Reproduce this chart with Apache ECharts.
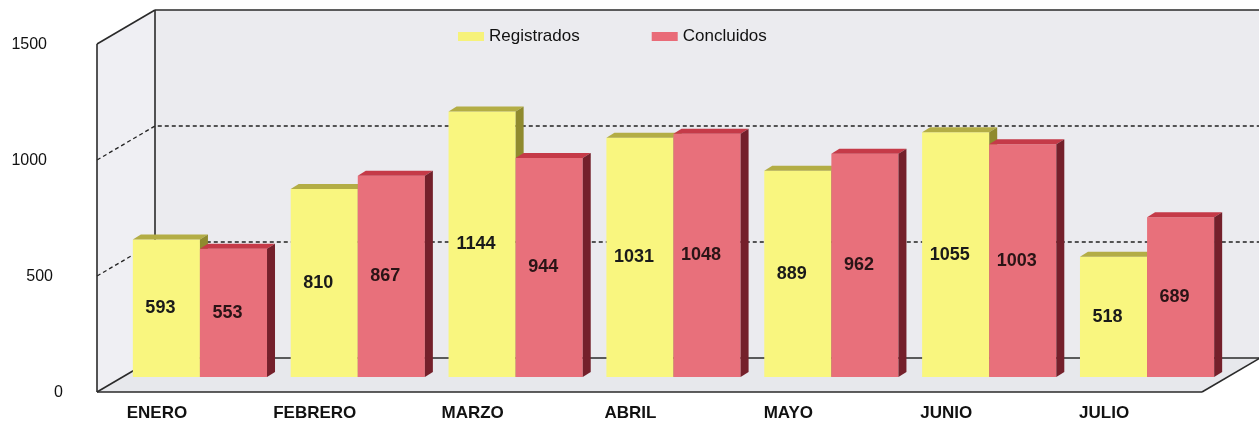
<!doctype html>
<meta charset="utf-8">
<title>Registrados / Concluidos</title>
<style>
	html, body { margin: 0; padding: 0; background: #fff; }
	#chart { width: 1259px; height: 424px; }
</style>
<div id="chart"></div>
<script src="https://cdn.jsdelivr.net/npm/echarts@6/dist/echarts.min.js"></script>
<script>
	const months = ['ENERO', 'FEBRERO', 'MARZO', 'ABRIL', 'MAYO', 'JUNIO', 'JULIO'];
	const registrados = [593, 810, 1144, 1031, 889, 1055, 518];
	const concluidos = [553, 867, 944, 1048, 962, 1003, 689];
	const yTicks = [500, 1000];

	// perspective offsets (px)
	const DX = 58, DY = -34;        // front plane -> back wall
	const PDX = 24, PDY = -15;      // front plane -> plane of the bars
	const BX = 8, BY = -5;          // bar thickness

	function frameRender(params, api) {
		const cs = params.coordSys;
		const L = cs.x, R = cs.x + cs.width, T = cs.y, B = cs.y + cs.height;
		const line = { stroke: '#2a2a2a', lineWidth: 1.6 };
		const kids = [
			{ type: 'polygon', shape: { points: [[L + DX, T + DY], [R + DX, T + DY], [R + DX, B + DY], [L + DX, B + DY]] }, style: { fill: '#ebebef' } },
			{ type: 'polygon', shape: { points: [[L, T], [L + DX, T + DY], [L + DX, B + DY], [L, B]] }, style: { fill: '#efeff3' } },
			{ type: 'polygon', shape: { points: [[L, B], [R, B], [R + DX, B + DY], [L + DX, B + DY]] }, style: { fill: '#e7e8ec' } }
		];
		yTicks.forEach(function (v) {
			const y = api.coord([0, v])[1];
			kids.push({ type: 'polyline', shape: { points: [[L, y], [L + DX, y + DY], [R + DX, y + DY]] },
				style: { stroke: '#222', lineWidth: 1.3, lineDash: [4, 3], fill: null } });
		});
		[
			[[L, T], [L, B]], [[L, T], [L + DX, T + DY]], [[L + DX, T + DY], [R + DX, T + DY]],
			[[L + DX, T + DY], [L + DX, B + DY]], [[L + DX, B + DY], [R + DX, B + DY]],
			[[L, B], [L + DX, B + DY]], [[L, B], [R, B]], [[R, B], [R + DX, B + DY]]
		].forEach(function (p) {
			kids.push({ type: 'polyline', shape: { points: p }, style: Object.assign({ fill: null }, line) });
		});
		return { type: 'group', children: kids };
	}

	function barRender(side, front, topC, sideC, textC) {
		return function (params, api) {
			const cat = api.value(0), v = api.value(1);
			const top = api.coord([cat, v]);
			const base = api.coord([cat, 0]);
			const w = api.size([1, 0])[0] * 0.425;
			const cx = top[0] + PDX;
			const x0 = side === 0 ? cx - w : cx;
			const yT = top[1] + PDY, yB = base[1] + PDY;
			return {
				type: 'group',
				children: [
					{ type: 'rect', shape: { x: x0, y: yT, width: w, height: yB - yT }, style: { fill: front } },
					{ type: 'polygon', shape: { points: [[x0, yT], [x0 + w, yT], [x0 + w + BX, yT + BY], [x0 + BX, yT + BY]] }, style: { fill: topC } },
					{ type: 'polygon', shape: { points: [[x0 + w, yT], [x0 + w + BX, yT + BY], [x0 + w + BX, yB + BY], [x0 + w, yB]] }, style: { fill: sideC } },
					{ type: 'text', style: { x: x0 + w / 2 - 6, y: (yT + yB) / 2, text: String(v),
						font: 'bold 18px "Liberation Sans", Arial, sans-serif', fill: textC, align: 'center', verticalAlign: 'middle' } }
				]
			};
		};
	}

	var chart = echarts.init(document.getElementById('chart'));
	chart.setOption({
		animation: false,
		backgroundColor: '#ffffff',
		textStyle: { fontFamily: '"Liberation Sans", Arial, sans-serif' },
		legend: {
			left: 453, top: 23,
			itemWidth: 26, itemHeight: 9, itemGap: 72,
			icon: 'rect',
			textStyle: { fontSize: 17, color: '#111' },
			data: ['Registrados', 'Concluidos']
		},
		grid: { left: 97, right: 57, top: 44, bottom: 32 },
		xAxis: {
			type: 'category',
			data: months,
			axisLine: { show: false },
			axisTick: { show: false },
			axisLabel: { margin: 13, fontSize: 17, fontWeight: 'bold', color: '#111', padding: [0, 38, 0, 0] }
		},
		yAxis: {
			type: 'value',
			min: 0, max: 1500, interval: 500,
			axisLine: { show: false },
			axisTick: { show: false },
			splitLine: { show: false },
			axisLabel: {
				margin: 34, fontSize: 16, color: '#111',
				formatter: function (v) { return v === 0 ? '{z|0}' : (v === 500 ? '{m|500}' : '{h|' + v + '}'); },
				rich: { z: { fontSize: 16, padding: [2, 0, 0, 0] }, m: { fontSize: 16, padding: [2, 10, 0, 0] }, h: { fontSize: 16, padding: [2, 16, 0, 0] } }
			}
		},
		series: [
			{
				type: 'custom', name: 'frame', silent: true, z: 1, clip: false,
				data: [[0, 0]], encode: { x: 0, y: 1 },
				renderItem: frameRender
			},
			{
				type: 'custom', name: 'Registrados', z: 2, clip: false,
				itemStyle: { color: '#f6f27a' },
				data: registrados.map(function (v, i) { return [i, v]; }),
				encode: { x: 0, y: 1 },
				renderItem: barRender(0, '#f9f67f', '#b3ad45', '#8f8a2e', '#1a1a1a')
			},
			{
				type: 'custom', name: 'Concluidos', z: 3, clip: false,
				itemStyle: { color: '#e96b78' },
				data: concluidos.map(function (v, i) { return [i, v]; }),
				encode: { x: 0, y: 1 },
				renderItem: barRender(1, '#e8707b', '#c53a48', '#74202b', '#2a1416')
			}
		]
	});
</script>
